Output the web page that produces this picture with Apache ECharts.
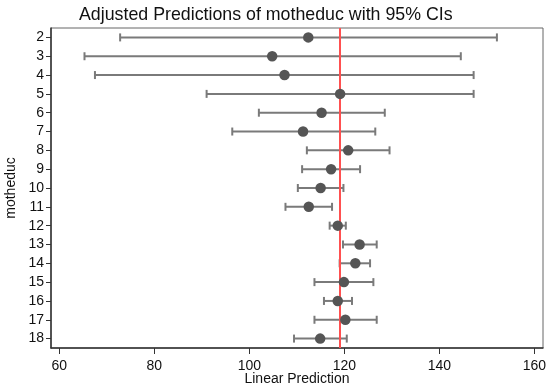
<!DOCTYPE html>
<html><head><meta charset="utf-8">
<script src="https://cdn.jsdelivr.net/npm/echarts@6/dist/echarts.min.js"></script>
<style>html,body{margin:0;padding:0;background:#fff}#c{width:548px;height:386px}</style>
</head><body><div id="c"></div>
<script>
const categories = ['2','3','4','5','6','7','8','9','10','11','12','13','14','15','16','17','18'];
const predictions = [112.4,104.8,107.4,119.1,115.2,111.3,120.8,117.2,115.0,112.5,118.6,123.2,122.3,119.9,118.6,120.2,114.9];
const lowerCI = [72.8,65.3,67.5,91.0,102.0,96.4,112.1,111.1,110.2,107.6,116.9,119.7,119.0,113.7,115.7,113.7,109.4];
const upperCI = [152.1,144.5,147.2,147.2,128.5,126.5,129.5,123.3,119.8,117.4,120.3,126.8,125.4,126.1,121.6,126.8,120.5];
const referenceLine = 118.95;
const xTicks = [60,80,100,120,140,160];

const font = '"Liberation Sans", Arial, sans-serif';
const chart = echarts.init(document.getElementById('c'), null, {renderer:'canvas'});
const ciData = categories.map((c,i)=>[lowerCI[i], upperCI[i], i]);
const ptData = categories.map((c,i)=>[predictions[i], i]);

chart.setOption({
  animation:false,
  backgroundColor:'#fff',
  title:{text:'Adjusted Predictions of motheduc with 95% CIs', left:74, top:1,
    textStyle:{fontFamily:font, fontSize:17.8, fontWeight:'normal', color:'#111'}},
  grid:{left:51, right:5, top:28, bottom:38, show:true, borderColor:'#666', borderWidth:1,
    containLabel:false, outerBoundsMode:'none'},
  xAxis:{type:'value', min:58.25, max:161.8,
    name:'Linear Prediction', nameLocation:'middle', nameGap:24, nameMoveOverlap:false,
    nameTextStyle:{fontFamily:font, fontSize:14, color:'#111'},
    axisLine:{show:true, onZero:false, lineStyle:{color:'#333', width:1.5}},
    axisTick:{show:true, length:6, customValues:xTicks, lineStyle:{color:'#333'}},
    axisLabel:{customValues:xTicks, fontFamily:font, fontSize:14, color:'#111', margin:11},
    splitLine:{show:false}},
  yAxis:{type:'category', data:categories, inverse:true,
    name:'motheduc', nameLocation:'middle', nameGap:33, nameRotate:90, nameMoveOverlap:false,
    nameTextStyle:{fontFamily:font, fontSize:14, color:'#111'},
    axisLine:{show:true, lineStyle:{color:'#333', width:1.5}},
    axisTick:{show:true, alignWithLabel:true, interval:0, length:5, lineStyle:{color:'#333'}},
    axisLabel:{interval:0, hideOverlap:false, fontFamily:font, fontSize:14, color:'#111', margin:7},
    splitLine:{show:false}},
  series:[
    {type:'custom', data:ciData, encode:{x:[0,1], y:2}, z:2,
      renderItem:function(params, api){
        const lo = api.coord([api.value(0), api.value(2)]);
        const hi = api.coord([api.value(1), api.value(2)]);
        const h = 4;
        const st = {stroke:'#7a7a7a', lineWidth:2};
        return {type:'group', children:[
          {type:'line', shape:{x1:lo[0], y1:lo[1], x2:hi[0], y2:hi[1]}, style:st},
          {type:'line', shape:{x1:lo[0], y1:lo[1]-h, x2:lo[0], y2:lo[1]+h}, style:st},
          {type:'line', shape:{x1:hi[0], y1:hi[1]-h, x2:hi[0], y2:hi[1]+h}, style:st}
        ]};
      }},
    {type:'scatter', data:ptData, symbol:'circle', symbolSize:10.5, z:4,
      itemStyle:{color:'#555', opacity:1},
      markLine:{silent:true, symbol:['none','none'], label:{show:false}, z:3,
        lineStyle:{color:'#ff5050', width:2, type:'solid'},
        data:[{xAxis:referenceLine}]}}
  ]
});
</script></body></html>
